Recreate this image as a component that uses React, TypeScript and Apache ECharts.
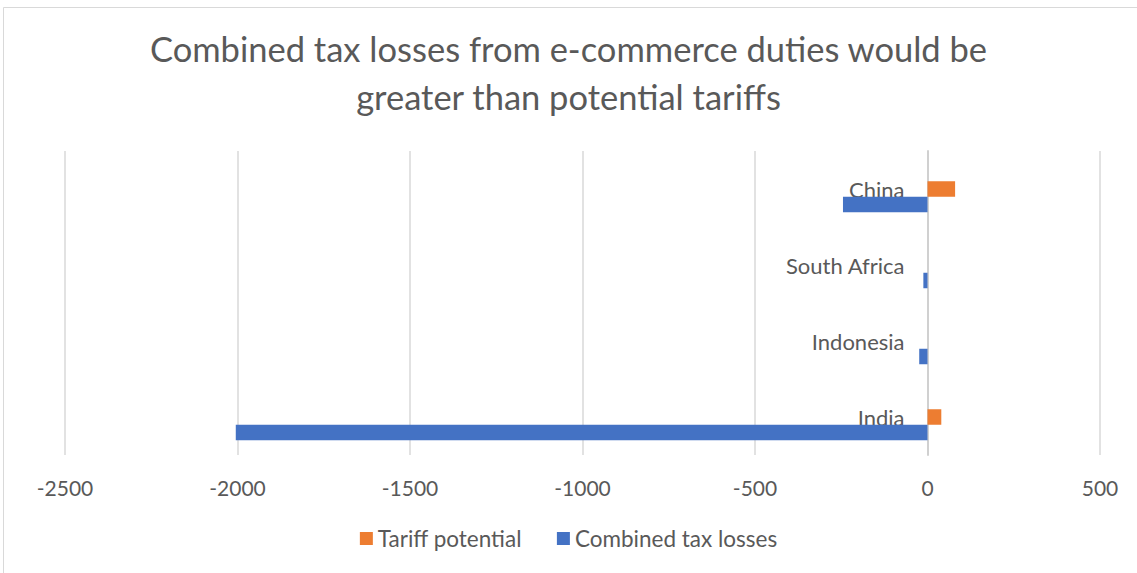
import React, { useEffect, useRef } from "react";
import * as echarts from "echarts";

const categories = ["India", "Indonesia", "South Africa", "China"];
const tariffPotential = [40, null, null, 80];
const combinedTaxLosses = [-2005, -24, -12, -245];
const spacer = [null, null, null, null];
const xTicks = { min: -2500, max: 500, step: 500 };

const FONT = "Lato, 'Open Sans', sans-serif";
const TEXT = "#595959";

export default function App() {
  const ref = useRef<HTMLDivElement>(null);
  useEffect(() => {
    document.body.style.margin = "0";
    const chart = echarts.init(ref.current!, undefined, { renderer: "svg" });
    const left = 65;
    const right = 37;
    const plotW = 1137 - left - right;
    const zeroX = left + ((0 - xTicks.min) / (xTicks.max - xTicks.min)) * plotW;
    chart.setOption({
      animation: false,
      backgroundColor: "#ffffff",
      textStyle: { fontFamily: FONT },
      title: {
        text: "Combined tax losses from e-commerce duties would be\ngreater than potential tariffs",
        left: "center",
        top: 19,
        textStyle: {
          fontFamily: FONT,
          fontSize: 34.5,
          fontWeight: "normal",
          color: TEXT,
          lineHeight: 48,
        },
      },
      graphic: [
        {
          type: "rect",
          shape: { x: 3.5, y: 7.5, width: 1200, height: 700 },
          style: { fill: "none", stroke: "#d9d9d9", lineWidth: 1 },
          silent: true,
          z: -1,
        },
      ],
      legend: {
        bottom: 18,
        left: "center",
        itemWidth: 13,
        itemHeight: 13,
        itemGap: 35,
        icon: "rect",
        data: ["Tariff potential", "Combined tax losses"],
        textStyle: { fontFamily: FONT, fontSize: 22.5, color: TEXT },
      },
      grid: { left, right, top: 151, bottom: 118, outerBoundsMode: "none", containLabel: false },
      xAxis: {
        type: "value",
        min: xTicks.min,
        max: xTicks.max,
        interval: xTicks.step,
        axisLine: { show: false },
        axisTick: { show: false },
        splitLine: { show: true, lineStyle: { color: "#d9d9d9", width: 1.5 } },
        axisLabel: {
          color: TEXT,
          fontSize: 21,
          fontFamily: FONT,
          margin: 22,
          formatter: (v: number) => String(v),
        },
      },
      yAxis: {
        type: "category",
        data: categories,
        offset: -(zeroX - left),
        axisLine: { show: true, onZero: false, lineStyle: { color: "#d0d0d0", width: 2 } },
        axisTick: { show: false },
        axisLabel: { color: TEXT, fontSize: 22, fontFamily: FONT, margin: 23, padding: [0, 0, 3, 0] },
      },
      series: [
        {
          name: "spacer",
          type: "bar",
          data: spacer,
          barWidth: 15.5,
          barGap: "0%",
        },
        {
          name: "Tariff potential",
          type: "bar",
          data: tariffPotential,
          barWidth: 15.5,
          barGap: "0%",
          itemStyle: { color: "#ED7D31" },
        },
        {
          name: "Combined tax losses",
          type: "bar",
          data: combinedTaxLosses,
          barWidth: 15.5,
          barGap: "0%",
          itemStyle: { color: "#4472C4" },
        },
      ],
    });
    return () => chart.dispose();
  }, []);
  return (
    <div
      ref={ref}
      style={{ position: "absolute", left: 0, top: 0, width: 1137, height: 573 }}
    />
  );
}
